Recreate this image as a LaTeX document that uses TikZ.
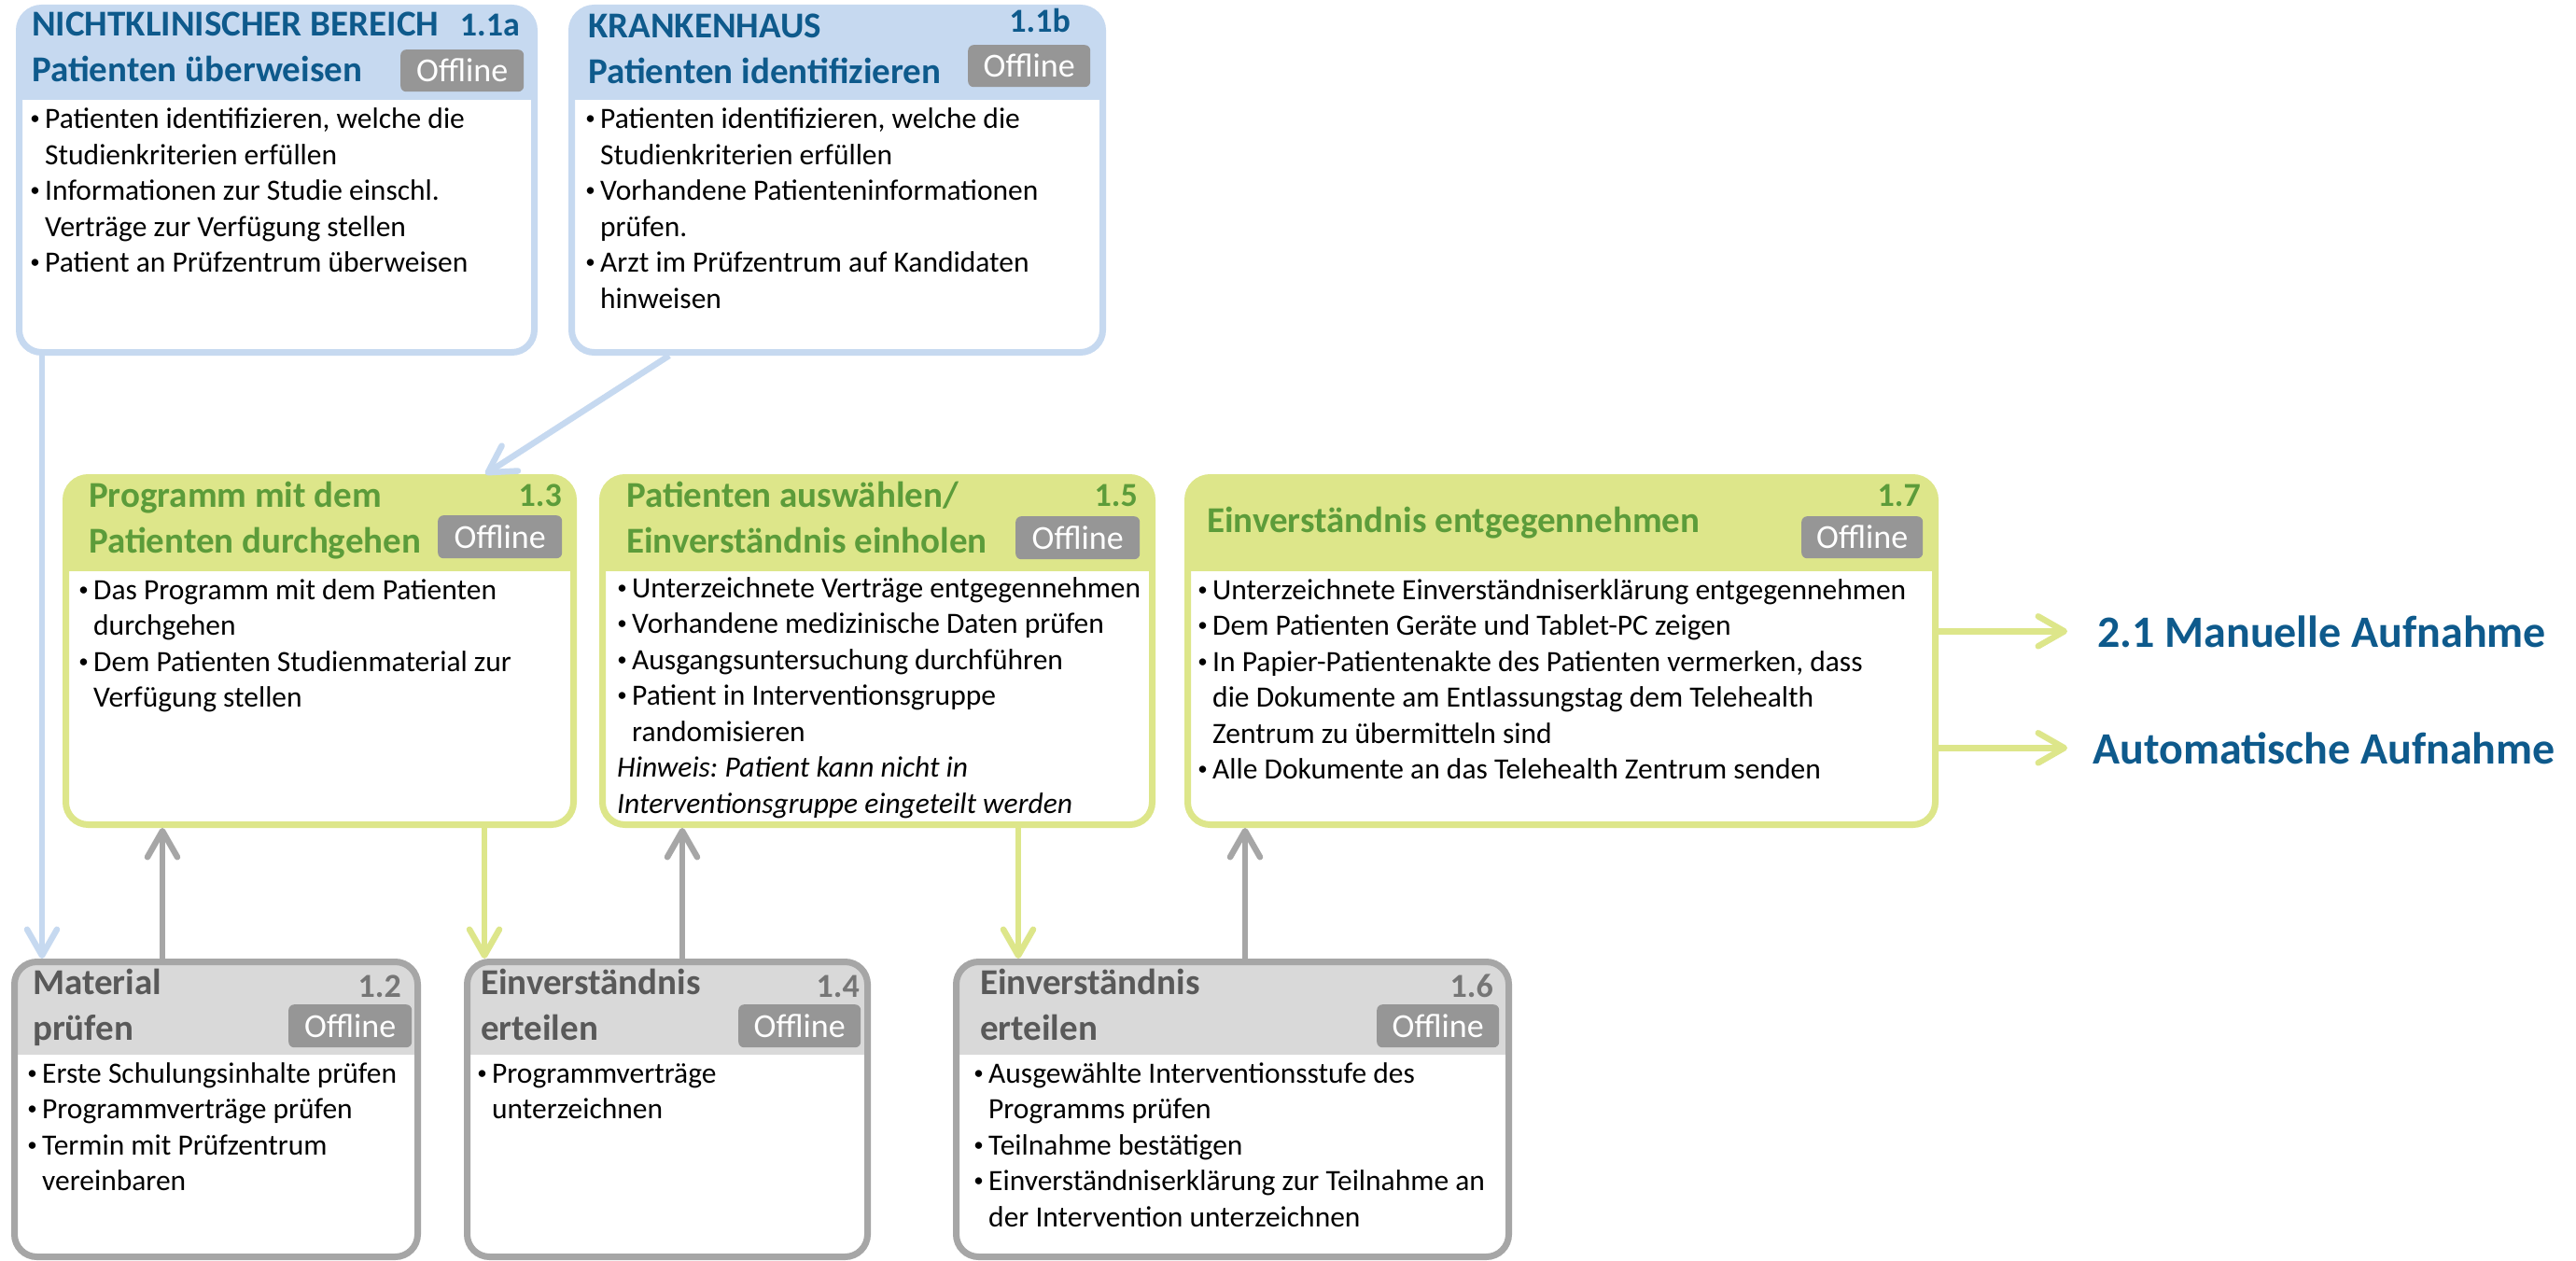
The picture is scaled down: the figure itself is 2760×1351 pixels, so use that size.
\documentclass[tikz,border=0pt]{standalone}
\usepackage{fontspec}
\setmainfont{Carlito}
\usetikzlibrary{arrows.meta}
\frenchspacing

\definecolor{bluebox}{RGB}{198,217,240}
\definecolor{bluetext}{RGB}{14,90,140}
\definecolor{greenbox}{RGB}{221,230,138}
\definecolor{greentext}{RGB}{92,156,58}
\definecolor{graybox}{RGB}{166,166,166}
\definecolor{grayhead}{RGB}{217,217,217}
\definecolor{graytext}{RGB}{89,89,89}
\definecolor{graynum}{RGB}{118,118,118}
\definecolor{badgegray}{RGB}{150,150,150}

% bullet and continuation indent for the task lists
\newcommand\itembul{\makebox[19pt][c]{\raisebox{4pt}{\fontsize{21}{21}\selectfont\textbullet}}\hspace*{1pt}}
\newcommand\itemind{\hspace*{20pt}}
% stacked lines whose baseline is the first line
\newcommand\stack[1]{\begin{tabular}[t]{@{}l@{}}#1\end{tabular}}

\tikzset{
  taskbox/.style n args={3}{draw=#1, line width=7pt, rounded corners=24pt,
    fill=white, inner sep=0pt,
    path picture={\fill[#2, sharp corners] (path picture bounding box.north west)
      rectangle ([yshift=-#3pt]path picture bounding box.north east);}},
  ttl/.style={anchor=base west, inner sep=0pt, text=#1,
    font=\fontsize{39}{49}\selectfont\bfseries},
  num/.style={anchor=base east, inner sep=0pt, text=#1,
    font=\fontsize{36}{40}\selectfont\bfseries},
  badge/.style={anchor=north west, fill=badgegray, rounded corners=6pt,
    inner sep=0pt, text=white, font=\fontsize{36}{40}\selectfont},
  body/.style={anchor=base west, inner sep=0pt,
    font=\fontsize{31.5}{38.5}\selectfont},
  target/.style={anchor=base west, inner sep=0pt, text=bluetext,
    font=\fontsize{48}{56}\selectfont\bfseries},
  conn/.style={draw=#1, line width=6.5pt,
    -{Straight Barb[length=28pt, width=32pt, round]}},
}

\begin{document}
\begin{tikzpicture}[x=1pt, y=-1pt]
\useasboundingbox[fill=white] (0,0) rectangle (2760,1351);

% ---------- task boxes ----------
\node[taskbox={bluebox}{bluebox}{98.5}, minimum width=552pt, minimum height=369pt] (b11a) at (296.5,193) {};
\node[taskbox={bluebox}{bluebox}{98.5}, minimum width=569pt, minimum height=369pt] (b11b) at (897,193) {};
\node[taskbox={greenbox}{greenbox}{100.5}, minimum width=544pt, minimum height=372pt] (b13) at (342.5,697.5) {};
\node[taskbox={greenbox}{greenbox}{100.5}, minimum width=589pt, minimum height=372pt] (b15) at (940,697.5) {};
\node[taskbox={greenbox}{greenbox}{100.5}, minimum width=801pt, minimum height=372pt] (b17) at (1673,697.5) {};
\node[taskbox={graybox}{grayhead}{99.5}, minimum width=432pt, minimum height=316pt] (b12) at (231.5,1188.5) {};
\node[taskbox={graybox}{grayhead}{99.5}, minimum width=429pt, minimum height=316pt] (b14) at (715,1188.5) {};
\node[taskbox={graybox}{grayhead}{99.5}, minimum width=592pt, minimum height=316pt] (b16) at (1320.5,1188.5) {};

% ---------- 1.1a ----------
\node[ttl=bluetext] (t11a) at (34,39) {\stack{NICHTKLINISCHER BEREICH\\Patienten überweisen}};
\node[num=bluetext] (n11a) at (557,39) {1.1a};
\node[badge, minimum width=132pt, minimum height=45pt] (o11a) at (429,53) {Offline};
\node[body] (l11a) at (28,138) {\stack{%
  \itembul Patienten identifizieren, welche die\\
  \itemind Studienkriterien erfüllen\\
  \itembul Informationen zur Studie einschl.\\
  \itemind Verträge zur Verfügung stellen\\
  \itembul Patient an Prüfzentrum überweisen}};

% ---------- 1.1b ----------
\node[ttl=bluetext] (t11b) at (630,41) {\stack{KRANKENHAUS\\Patienten identifizieren}};
\node[num=bluetext] (n11b) at (1147,35) {1.1b};
\node[badge, minimum width=131pt, minimum height=45pt] (o11b) at (1037,48) {Offline};
\node[body] (l11b) at (623,138) {\stack{%
  \itembul Patienten identifizieren, welche die\\
  \itemind Studienkriterien erfüllen\\
  \itembul Vorhandene Patienteninformationen\\
  \itemind prüfen.\\
  \itembul Arzt im Prüfzentrum auf Kandidaten\\
  \itemind hinweisen}};

% ---------- 1.3 ----------
\node[ttl=greentext] (t13) at (95,543) {\stack{Programm mit dem\\Patienten durchgehen}};
\node[num=greentext] (n13) at (602,542) {1.3};
\node[badge, minimum width=133pt, minimum height=46pt] (o13) at (469,552) {Offline};
\node[body] (l13) at (80,642) {\stack{%
  \itembul Das Programm mit dem Patienten\\
  \itemind durchgehen\\
  \itembul Dem Patienten Studienmaterial zur\\
  \itemind Verfügung stellen}};

% ---------- 1.5 ----------
\node[ttl=greentext] (t15) at (671,543) {\stack{Patienten auswählen/\\Einverständnis einholen}};
\node[num=greentext] (n15) at (1219,542) {1.5};
\node[badge, minimum width=133pt, minimum height=46pt] (o15) at (1088,553) {Offline};
\node[body] (l15) at (657,640) {\stack{%
  \itembul Unterzeichnete Verträge entgegennehmen\\
  \itembul Vorhandene medizinische Daten prüfen\\
  \itembul Ausgangsuntersuchung durchführen\\
  \itembul Patient in Interventionsgruppe\\
  \itemind randomisieren\\
  \hspace*{4pt}\itshape Hinweis: Patient kann nicht in\\
  \hspace*{4pt}\itshape Interventionsgruppe eingeteilt werden}};

% ---------- 1.7 ----------
\node[ttl=greentext] (t17) at (1293,570) {Einverständnis entgegennehmen};
\node[num=greentext] (n17) at (2058,542) {1.7};
\node[badge, minimum width=130pt, minimum height=45pt] (o17) at (1930,553) {Offline};
\node[body] (l17) at (1279,642) {\stack{%
  \itembul Unterzeichnete Einverständniserklärung entgegennehmen\\
  \itembul Dem Patienten Geräte und Tablet-PC zeigen\\
  \itembul In Papier-Patientenakte des Patienten vermerken, dass\\
  \itemind die Dokumente am Entlassungstag dem Telehealth\\
  \itemind Zentrum zu übermitteln sind\\
  \itembul Alle Dokumente an das Telehealth Zentrum senden}};

% ---------- 1.2 ----------
\node[ttl=graytext] (t12) at (35,1065) {\stack{Material\\prüfen}};
\node[num=graynum] (n12) at (430,1068) {1.2};
\node[badge, minimum width=132pt, minimum height=46pt] (o12) at (309,1076) {Offline};
\node[body] (l12) at (25,1160) {\stack{%
  \itembul Erste Schulungsinhalte prüfen\\
  \itembul Programmverträge prüfen\\
  \itembul Termin mit Prüfzentrum\\
  \itemind vereinbaren}};

% ---------- 1.4 ----------
\node[ttl=graytext] (t14) at (515,1065) {\stack{Einverständnis\\erteilen}};
\node[num=graynum] (n14) at (921,1068) {1.4};
\node[badge, minimum width=131pt, minimum height=46pt] (o14) at (791,1076) {Offline};
\node[body] (l14) at (507,1160) {\stack{%
  \itembul Programmverträge\\
  \itemind unterzeichnen}};

% ---------- 1.6 ----------
\node[ttl=graytext] (t16) at (1050,1065) {\stack{Einverständnis\\erteilen}};
\node[num=graynum] (n16) at (1600,1068) {1.6};
\node[badge, minimum width=131pt, minimum height=46pt] (o16) at (1475,1076) {Offline};
\node[body] (l16) at (1039,1160) {\stack{%
  \itembul Ausgewählte Interventionsstufe des\\
  \itemind Programms prüfen\\
  \itembul Teilnahme bestätigen\\
  \itembul Einverständniserklärung zur Teilnahme an\\
  \itemind der Intervention unterzeichnen}};

% ---------- follow-up processes ----------
\node[target] (m1) at (2247,693) {2.1 Manuelle Aufnahme};
\node[target] (m2) at (2242,818) {Automatische Aufnahme};

% ---------- connector columns ----------
\coordinate (xa) at (45,0);
\coordinate (xb1) at (717,0);
\coordinate (xb2) at (520,0);
\coordinate (xc) at (174,0);
\coordinate (xd) at (519,0);
\coordinate (xe) at (731,0);
\coordinate (xf) at (1091,0);
\coordinate (xg) at (1334,0);

% ---------- connectors ----------
\draw[conn=bluebox] (b11a.south -| xa) -- (b12.north -| xa);
\draw[conn=bluebox] (b11b.south -| xb1) -- (b13.north -| xb2);
\draw[conn=graybox] (b12.north -| xc) -- (b13.south -| xc);
\draw[conn=greenbox] (b13.south -| xd) -- (b14.north -| xd);
\draw[conn=graybox] (b14.north -| xe) -- (b15.south -| xe);
\draw[conn=greenbox] (b15.south -| xf) -- (b16.north -| xf);
\draw[conn=graybox] (b16.north -| xg) -- (b17.south -| xg);
\draw[conn=greenbox] (b17.east |- m1.west) -- ([xshift=-32pt]m1.west);
\draw[conn=greenbox] (b17.east |- m2.west) -- ([xshift=-27pt]m2.west);
\end{tikzpicture}
\end{document}
